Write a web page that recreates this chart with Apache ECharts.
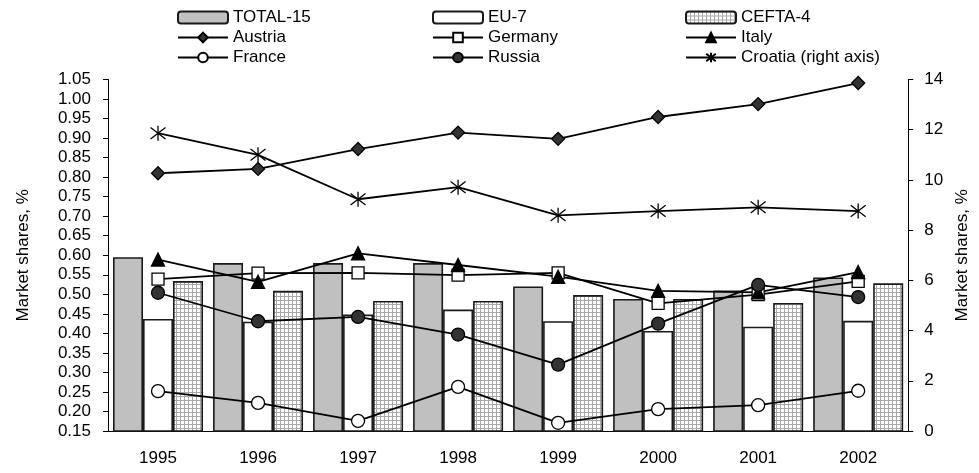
<!DOCTYPE html>
<html>
<head>
<meta charset="utf-8">
<script src="https://cdn.jsdelivr.net/npm/echarts@6/dist/echarts.min.js"></script>
<style>html,body{margin:0;padding:0;background:#fff}#c{width:979px;height:473px}</style>
</head>
<body>
<div id="c"></div>
<script>
var years = ['1995','1996','1997','1998','1999','2000','2001','2002'];
var total15 = [0.595, 0.580, 0.580, 0.580, 0.520, 0.488, 0.510, 0.543];
var eu7     = [0.437, 0.430, 0.448, 0.461, 0.431, 0.406, 0.417, 0.432];
var cefta4  = [0.534, 0.509, 0.483, 0.483, 0.498, 0.488, 0.478, 0.528];
var austria = [0.810, 0.821, 0.872, 0.914, 0.898, 0.954, 0.987, 1.041];
var germany = [0.539, 0.554, 0.555, 0.549, 0.555, 0.477, 0.499, 0.533];
var italy   = [0.589, 0.532, 0.605, 0.575, 0.545, 0.509, 0.505, 0.557];
var france  = [0.252, 0.222, 0.176, 0.263, 0.171, 0.206, 0.216, 0.253];
var russia  = [0.504, 0.431, 0.442, 0.397, 0.320, 0.425, 0.524, 0.493];
var croatia = [11.86, 11.00, 9.23, 9.71, 8.59, 8.76, 8.91, 8.76];
var leftTicks = {min: 0.15, max: 1.05, interval: 0.05};
var rightTicks = {min: 0, max: 14, interval: 2};

var FONT = 'Liberation Sans, Arial, sans-serif';
var FS = 17;

function makePattern() {
  var c = document.createElement('canvas');
  c.width = 4; c.height = 4;
  var g = c.getContext('2d');
  g.fillStyle = '#ffffff'; g.fillRect(0,0,4,4);
  g.fillStyle = '#a8a8a8';
  g.fillRect(0,0,4,1);
  g.fillRect(0,0,1,4);
  return c;
}
var pattern = {image: makePattern(), repeat: 'repeat'};

var asterisk = 'path://M0,0L10,10M10,0L0,10M5,-1.5L5,11.5';

function barS(name, data, fill) {
  return {name: name, type: 'bar', data: data, barWidth: 30, barGap: '0%',
    itemStyle: {color: fill, borderColor: '#1a1a1a', borderWidth: 1.6}, z: 2};
}
function lineS(name, data, symbol, fill, size, axis) {
  return {name: name, type: 'line', data: data, yAxisIndex: axis || 0,
    symbol: symbol, symbolSize: size, showAllSymbol: true,
    lineStyle: {color: '#000', width: 1.8},
    itemStyle: {color: fill, borderColor: '#000', borderWidth: 1.3}, z: 5};
}

var chart = echarts.init(document.getElementById('c'), null, {renderer: 'canvas'});
var legendBase = {orient: 'vertical', top: 4, itemWidth: 50, itemHeight: 12, itemGap: 3,
  textStyle: {fontFamily: FONT, fontSize: FS, color: '#000'}, selectedMode: false};
chart.setOption({
  animation: false,
  textStyle: {fontFamily: FONT},
  legend: [
    Object.assign({}, legendBase, {left: 172, data: ['TOTAL-15','Austria','France']}),
    Object.assign({}, legendBase, {left: 427, data: ['EU-7','Germany','Russia']}),
    Object.assign({}, legendBase, {left: 680, data: ['CEFTA-4','Italy','Croatia (right axis)']})
  ],
  grid: {left: 108, right: 65, top: 79.5, bottom: 42},
  xAxis: {type: 'category', data: years, boundaryGap: true,
    axisLine: {lineStyle: {color: '#000', width: 1}},
    axisTick: {length: 5, lineStyle: {color: '#000'}},
    axisLabel: {color: '#000', fontSize: FS, fontFamily: FONT, margin: 19}},
  yAxis: [
    {type: 'value', min: leftTicks.min, max: leftTicks.max, interval: leftTicks.interval,
      name: 'Market shares, %', nameLocation: 'middle', nameGap: 76,
      nameTextStyle: {color: '#000', fontSize: FS, fontFamily: FONT},
      axisLine: {show: true, lineStyle: {color: '#000', width: 1}},
      axisTick: {show: true, length: 5, lineStyle: {color: '#000'}},
      splitLine: {show: false},
      axisLabel: {color: '#000', fontSize: FS, fontFamily: FONT, margin: 17,
        formatter: function (v) { return v.toFixed(2); }}},
    {type: 'value', min: rightTicks.min, max: rightTicks.max, interval: rightTicks.interval,
      position: 'right',
      name: 'Market shares, %', nameLocation: 'middle', nameGap: 44,
      nameTextStyle: {color: '#000', fontSize: FS, fontFamily: FONT},
      axisLine: {show: true, lineStyle: {color: '#000', width: 1}},
      axisTick: {show: true, length: 5, lineStyle: {color: '#000'}},
      splitLine: {show: false},
      axisLabel: {color: '#000', fontSize: FS, fontFamily: FONT, margin: 16}}
  ],
  series: [
    barS('TOTAL-15', total15, '#c0c0c0'),
    barS('EU-7', eu7, '#ffffff'),
    barS('CEFTA-4', cefta4, pattern),
    lineS('Austria', austria, 'diamond', '#333333', 13),
    lineS('Germany', germany, 'rect', '#ffffff', 12),
    lineS('Italy', italy, 'triangle', '#000000', 13),
    lineS('France', france, 'circle', '#ffffff', 13),
    lineS('Russia', russia, 'circle', '#333333', 13),
    lineS('Croatia (right axis)', croatia, asterisk, 'rgba(0,0,0,0)', 15, 1)
  ]
});
</script>
</body>
</html>
